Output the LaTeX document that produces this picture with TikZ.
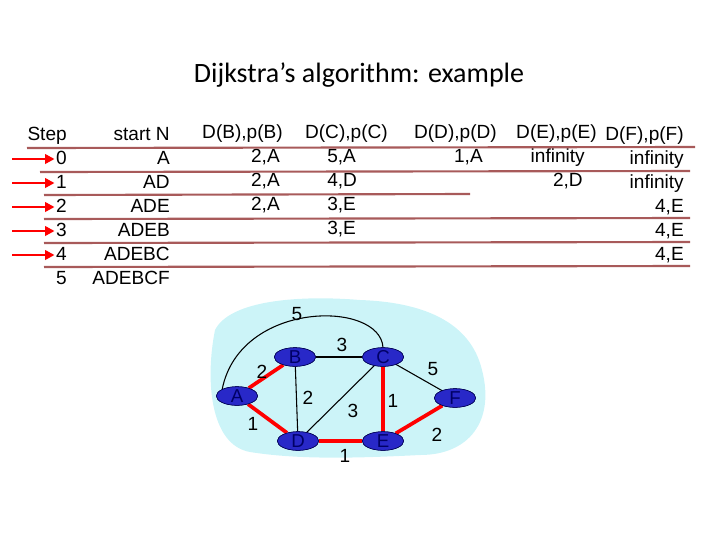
\documentclass[tikz,border=0pt]{standalone}
\usepackage{fontspec}
\setmainfont{Liberation Sans}
\newfontfamily\titlefont{Carlito}
\usetikzlibrary{shapes.geometric,arrows.meta}
\definecolor{rule}{HTML}{A85A5A}
\definecolor{cloud}{HTML}{CCF4F8}
\definecolor{rtr}{HTML}{2828C8}
\tikzset{
 txt/.style={inner sep=0pt,font=\fontsize{14.3}{16}\selectfont},
 rl/.style={txt,anchor=base east},
 ll/.style={txt,anchor=base west},
 hl/.style={draw=rule,line width=1.6pt},
 arr/.style={draw=red,line width=2.2pt,-{Triangle[length=7pt,width=7pt]}},
 rtrn/.style={ellipse,draw=black!70!blue,fill=rtr,minimum width=31pt,minimum height=14pt,inner sep=0pt,font=\fontsize{14}{16}\selectfont,text=black!60!blue},
 red edge/.style={draw=red,line width=2.8pt},
 blk edge/.style={draw=black,line width=0.8pt},
 wl/.style={txt,anchor=center}
}
\begin{document}
\begin{tikzpicture}[x=0.75pt,y=-0.75pt]
\useasboundingbox (0,0) rectangle (720,540);
\node[font=\titlefont\fontsize{21}{24}\selectfont] (title) at (359,75) {Dijkstra’s algorithm: example};
% header
\node[rl] (h0) at (67,140) {Step};
\node[rl] (h1) at (170,140) {start N};
\node[rl] (h2) at (283,138) {D(B),p(B)};
\node[rl] (h3) at (388,138) {D(C),p(C)};
\node[rl] (h4) at (497,138) {D(D),p(D)};
\node[rl] (h5) at (597,138) {D(E),p(E)};
\node[rl] (h6) at (684,140) {D(F),p(F)};
% rows
\foreach \i/\n/\y in {0/A/164,1/AD/188,2/ADE/212,3/ADEB/236,4/ADEBC/260,5/ADEBCF/284}{
 \node[rl] (s\i) at (67,\y) {\i};
 \node[rl] (n\i) at (170,\y) {\n};
}
\node[rl] (b0) at (280,162) {2,A};
\node[rl] (b1) at (280,186) {2,A};
\node[rl] (b2) at (280,210) {2,A};
\node[ll] (c0) at (327,162) {5,A};
\node[ll] (c1) at (327,186) {4,D};
\node[ll] (c2) at (327,210) {3,E};
\node[ll] (c3) at (327,234) {3,E};
\node[rl] (d0) at (483,162) {1,A};
\node[rl] (e0) at (585,162) {infinity};
\node[rl] (e1) at (583,186) {2,D};
\node[rl] (f0) at (684,164) {infinity};
\node[rl] (f1) at (684,188) {infinity};
\node[rl] (f2) at (684,212) {4,E};
\node[rl] (f3) at (684,236) {4,E};
\node[rl] (f4) at (684,260) {4,E};
% rules
\draw[hl] (27,148) -- (695,147);
\draw[hl] (40,172) -- (690,171);
\draw[hl] (44,195) -- (470,194);
\draw[hl] (44,219) -- (690,218);
\draw[hl] (44,243) -- (690,242);
\draw[hl] (44,267) -- (690,266);
% arrows
\foreach \i/\y in {0/159,1/183,2/207,3/231,4/255}{
 \coordinate (a\i) at (12,\y);
 \draw[arr] (a\i) -- ([xshift=-1pt]s\i.west |- 0,\y);
}
% cloud
\fill[cloud] (215,330) .. controls (230,300) and (300,295) .. (360,300)
 .. controls (420,302) and (470,320) .. (482,370)
 .. controls (495,420) and (470,455) .. (420,455)
 .. controls (360,458) and (300,460) .. (250,452)
 .. controls (210,445) and (205,380) .. (215,330) -- cycle;
% nodes
\node[rtrn] (A) at (237,396) {A};
\node[rtrn] (B) at (295,357) {B};
\node[rtrn] (C) at (383,357) {C};
\node[rtrn] (D) at (298,441) {D};
\node[rtrn] (E) at (383,441) {E};
\node[rtrn] (F) at (455,398) {F};
\draw[blk edge] (A.north west) .. controls (240,300) and (380,300) .. (C.north);
\draw[blk edge] (B) -- (C);
\draw[blk edge] (B) -- (D);
\draw[blk edge] (C) -- (D);
\draw[blk edge] (C) -- (F);
\draw[red edge] (A) -- (B);
\draw[red edge] (A) -- (D);
\draw[red edge] (D) -- (E);
\draw[red edge] (C) -- (E);
\draw[red edge] (E) -- (F);
\foreach \n/\p in {A/{(237,396)},B/{(295,357)},C/{(383,357)},D/{(298,441)},E/{(383,441)},F/{(455,398)}}{
 \node[rtrn] at \p {\n};
}
\node[wl] (w1) at (297,314) {5};
\node[wl] (w2) at (342,345) {3};
\node[wl] (w3) at (262,372) {2};
\node[wl] (w4) at (308,398) {2};
\node[wl] (w5) at (433,369) {5};
\node[wl] (w6) at (353,411) {3};
\node[wl] (w7) at (393,401) {1};
\node[wl] (w8) at (253,424) {1};
\node[wl] (w9) at (345,456) {1};
\node[wl] (w10) at (437,435) {2};
\end{tikzpicture}
\end{document}
